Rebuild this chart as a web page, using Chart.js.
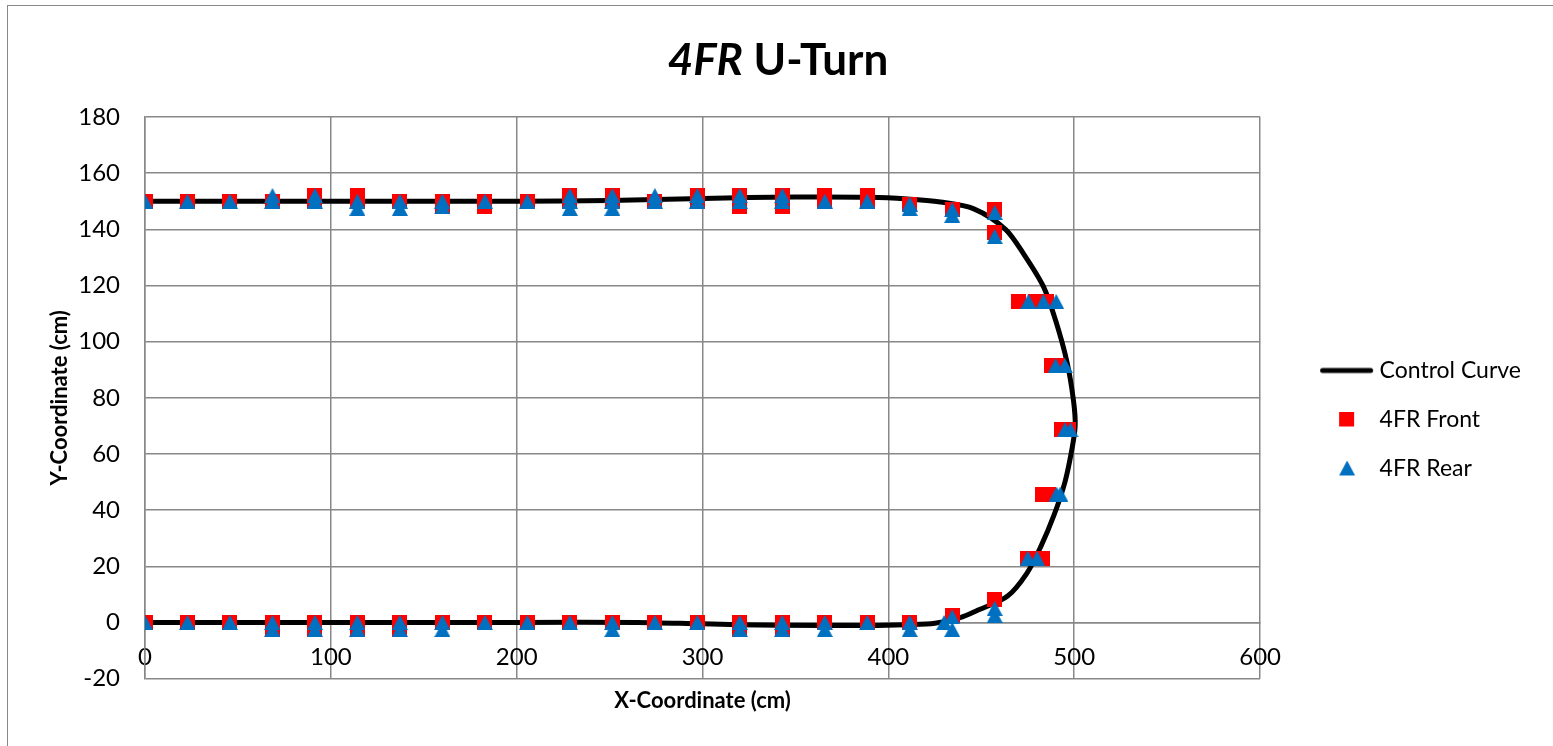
<!DOCTYPE html>
<html>
<head>
<meta charset="utf-8">
<title>4FR U-Turn</title>
<script src="https://cdn.jsdelivr.net/npm/chart.js@4.4.1/dist/chart.umd.min.js"></script>
<style>
  html, body { margin: 0; padding: 0; background: #fff; }
  #wrap { position: relative; width: 1553px; height: 746px; overflow: hidden; }
  #frame { position: absolute; left: 7px; top: 5px; width: 1600px; height: 800px;
           border-top: 1.5px solid #888; border-left: 1.5px solid #888; pointer-events: none; }
  #title { position: absolute; left: 0; top: 36px; width: 1556px; text-align: center;
           font: bold 44px/44px Lato, sans-serif; color: #000; }
</style>
</head>
<body>
<div id="wrap">
  <canvas id="uturn" width="1553" height="746"></canvas>
  <div id="frame"></div>
  <div id="title"><i>4FR</i> U-Turn</div>
</div>
<script>
// axis ranges / tick steps
var xTicks = [0, 100, 200, 300, 400, 500, 600];
var yTicks = [-20, 0, 20, 40, 60, 80, 100, 120, 140, 160, 180];

// control path (cm)
var curveX = [0, 100, 200, 250, 300, 350, 390, 410, 428, 446, 463, 473, 483.5, 490, 496, 499.6,
              500.5, 498.7, 495, 489, 482, 474.5, 464, 449, 438.6, 425, 410, 390, 340, 300, 265, 200, 100, 0];
var curveY = [150, 150, 150, 150.3, 151, 151.5, 151.4, 150.8, 149.7, 147.3, 140, 131, 119.5, 107.5, 93, 79,
              70, 61.5, 50, 38, 27, 17.5, 9.3, 4.6, 1.7, -0.3, -0.8, -1.1, -1, -0.5, 0, 0, 0, 0];

// front axle positions
var frontX = [0, 22.86, 45.72, 68.58, 91.44, 91.44, 114.3, 114.3, 137.16, 160.02, 160.02, 182.88, 182.88,
              205.74, 228.6, 228.6, 251.46, 251.46, 274.32, 297.18, 297.18, 320.04, 320.04, 320.04,
              342.9, 342.9, 342.9, 365.76, 365.76, 388.62, 388.62, 411.48, 434.34, 457.2, 457.2,
              470, 479, 485, 487.5, 491, 493, 497, 483, 486, 475, 483, 457.2, 434.34,
              0, 22.86, 45.72, 68.58, 68.58, 91.44, 91.44, 114.3, 114.3, 137.16, 137.16, 160.02, 182.88,
              205.74, 228.6, 251.46, 274.32, 297.18, 320.04, 320.04, 342.9, 342.9, 365.76, 388.62, 411.48];
var frontY = [150, 150, 150, 150, 150, 152, 150, 152, 150, 150, 148, 150, 148,
              150, 150, 152, 150, 152, 150, 150, 152, 148, 150, 152,
              148, 150, 152, 150, 152, 150, 152, 149, 147, 147, 139,
              114.3, 114.3, 114.3, 91.44, 91.44, 68.58, 68.58, 45.72, 45.72, 22.86, 22.86, 8, 2.5,
              0, 0, 0, 0, -2.5, 0, -2.5, 0, -2.5, 0, -2.5, 0, 0,
              0, 0, 0, 0, 0, 0, -2.5, 0, -2.5, 0, 0, 0];

// rear axle positions
var rearX = [0, 22.86, 45.72, 68.58, 68.58, 91.44, 91.44, 114.3, 114.3, 137.16, 137.16, 160.02, 160.02,
             182.88, 205.74, 228.6, 228.6, 228.6, 251.46, 251.46, 251.46, 274.32, 274.32, 297.18, 297.18,
             320.04, 320.04, 342.9, 342.9, 365.76, 388.62, 411.48, 411.48, 434.34, 434.34, 457.2, 457.2,
             475.3, 483.4, 490.3, 490, 495, 495, 498, 490.5, 492.5, 475, 480, 457.2, 457.2, 434.34, 434.34, 430,
             0, 22.86, 45.72, 68.58, 68.58, 91.44, 91.44, 114.3, 114.3, 137.16, 137.16, 160.02, 160.02,
             182.88, 205.74, 228.6, 251.46, 251.46, 274.32, 297.18, 320.04, 320.04, 342.9, 342.9,
             365.76, 365.76, 388.62, 411.48, 411.48];
var rearY = [150, 150, 150, 150, 152, 150, 152, 150, 147.5, 150, 147.5, 150, 148,
             150, 150, 147.5, 150, 152, 147.5, 150, 152, 150, 152, 150, 152,
             150, 152, 150, 152, 150, 150, 147.5, 149, 145, 147, 137.5, 146,
             114.3, 114.3, 114.3, 91.44, 91.44, 68.58, 68.58, 45.72, 45.72, 22.86, 22.86, 5, 2.5, 2, -2.5, 0,
             0, 0, 0, 0, -2.5, 0, -2.5, 0, -2.5, 0, -2.5, 0, -2.5,
             0, 0, 0, 0, -2.5, 0, 0, 0, -2.5, 0, -2.5,
             0, -2.5, 0, 0, -2.5];

var seriesNames = ['Control Curve', '4FR Front', '4FR Rear'];

function pts(xs, ys) {
    return xs.map(function (x, i) { return { x: x, y: ys[i] }; });
}

function sprite(w, h, paint) {
    var c = document.createElement('canvas');
    c.width = w;
    c.height = h;
    paint(c.getContext('2d'));
    return c;
}

var RED = '#FF0000', BLUE = '#0070C0', GRID = '#888888';

var squareMark = sprite(15, 15, function (g) {
    g.fillStyle = RED;
    g.fillRect(0, 0, 15, 15);
});
var triangleMark = sprite(16, 15, function (g) {
    g.fillStyle = BLUE;
    g.beginPath();
    g.moveTo(8, 0);
    g.lineTo(16, 15);
    g.lineTo(0, 15);
    g.closePath();
    g.fill();
});

// legend icons sit right-aligned inside a wide sprite so the text lines up after them
var legendIcons = [
    sprite(100, 16, function (g) {
        g.strokeStyle = '#000';
        g.lineWidth = 5;
        g.lineCap = 'round';
        g.beginPath();
        g.moveTo(45.5, 8);
        g.lineTo(93.5, 8);
        g.stroke();
    }),
    sprite(100, 16, function (g) {
        g.fillStyle = RED;
        g.fillRect(62, 0, 15, 15);
    }),
    sprite(100, 16, function (g) {
        g.fillStyle = BLUE;
        g.beginPath();
        g.moveTo(70, 0);
        g.lineTo(78, 15);
        g.lineTo(62, 15);
        g.closePath();
        g.fill();
    })
];

Chart.defaults.font.family = 'Lato, sans-serif';
Chart.defaults.color = '#000';

new Chart(document.getElementById('uturn'), {
    type: 'scatter',
    data: {
        datasets: [{
            label: seriesNames[0],
            data: pts(curveX, curveY),
            showLine: true,
            borderColor: '#000',
            borderWidth: 5,
            tension: 0.3,
            pointRadius: 0,
            order: 3
        }, {
            label: seriesNames[1],
            data: pts(frontX, frontY),
            pointStyle: squareMark,
            order: 2
        }, {
            label: seriesNames[2],
            data: pts(rearX, rearY),
            pointStyle: triangleMark,
            order: 1
        }]
    },
    options: {
        responsive: false,
        animation: false,
        devicePixelRatio: 1,
        events: [],
        layout: { padding: { left: 0, top: 117, right: 22, bottom: 24 } },
        plugins: {
            tooltip: { enabled: false },
            legend: {
                position: 'right',
                labels: {
                    font: { size: 23 },
                    padding: 26,
                    usePointStyle: true,
                    pointStyleWidth: 82,
                    generateLabels: function (chart) {
                        return chart.data.datasets.map(function (ds, i) {
                            return {
                                text: ds.label,
                                pointStyle: legendIcons[i],
                                datasetIndex: i,
                                hidden: false,
                                lineWidth: 0,
                                fontColor: '#000'
                            };
                        });
                    }
                }
            }
        },
        scales: {
            x: {
                type: 'linear',
                position: { y: 0 },
                min: xTicks[0],
                max: xTicks[xTicks.length - 1],
                ticks: { stepSize: xTicks[1] - xTicks[0], font: { size: 24 }, padding: 20, maxRotation: 0 },
                grid: { color: GRID, lineWidth: 1.5, drawTicks: false },
                border: { color: GRID, width: 1.5 }
            },
            xTitle: {
                type: 'linear',
                axis: 'x',
                position: 'bottom',
                grid: { display: false, drawTicks: false },
                border: { display: false },
                ticks: { display: false },
                title: {
                    display: true,
                    text: 'X-Coordinate (cm)',
                    font: { size: 22, weight: 'bold' },
                    padding: { top: 9, bottom: 8 }
                }
            },
            y: {
                min: yTicks[0],
                max: yTicks[yTicks.length - 1],
                ticks: { stepSize: yTicks[1] - yTicks[0], font: { size: 24 }, padding: 25 },
                grid: { color: GRID, lineWidth: 1.5, drawTicks: false },
                border: { color: GRID, width: 1.5 },
                title: {
                    display: true,
                    text: 'Y-Coordinate (cm)',
                    font: { size: 22, weight: 'bold' },
                    padding: { top: 47, bottom: 0 }
                },
                afterFit: function (scale) { scale.width = 145; }
            }
        }
    }
});
</script>
</body>
</html>
